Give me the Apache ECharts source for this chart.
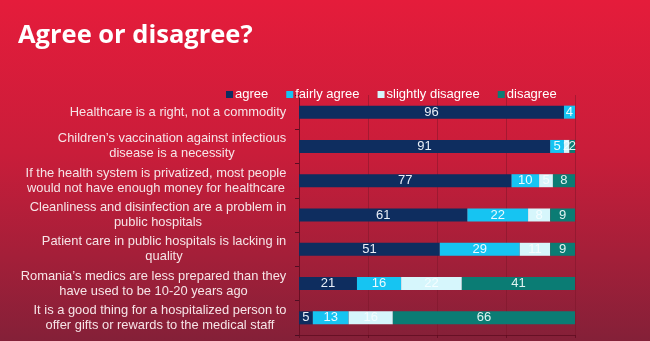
<!DOCTYPE html>
<html><head><meta charset="utf-8">
<script src="https://cdn.jsdelivr.net/npm/echarts@6/dist/echarts.min.js"></script>
<style>html,body{margin:0;padding:0;}#c{width:650px;height:341px;background:linear-gradient(180deg,#e51c3b 0%,#c91d3a 45%,#a41f39 75%,#842038 100%);}</style>
</head><body><div id="c"></div>
<script>
const categories = [
  "Healthcare is a right, not a commodity",
  "Children’s vaccination against infectious\ndisease is a necessity",
  "If the health system is privatized, most people\nwould not have enough money for healthcare",
  "Cleanliness and disinfection are a problem in\npublic hospitals",
  "Patient care in public hospitals is lacking in\nquality",
  "Romania’s medics are less prepared than they\nhave used to be 10-20 years ago",
  "It is a good thing for a hospitalized person to\noffer gifts or rewards to the medical staff"
];
const agree = [96, 91, 77, 61, 51, 21, 5];
const fairlyAgree = [4, 5, 10, 22, 29, 16, 13];
const slightlyDisagree = [0, 2, 5, 8, 11, 22, 16];
const disagree = [0, 2, 8, 9, 9, 41, 66];
const seriesNames = ["agree", "fairly agree", "slightly disagree", "disagree"];
const xTicks = [0, 25, 50, 75, 100];

const colors = ["#0e2d5f", "#16c4f2", "#d6f6fc", "#0b7c74"];
const labelColors = ["#e9eef7", "#eafaff", "#f4fdff", "#e0f3f1"];
const datasets = [agree, fairlyAgree, slightlyDisagree, disagree];

const catSize = 12.9;
const ctx = document.createElement('canvas').getContext('2d');
ctx.font = catSize + 'px "Liberation Sans"';
const rich = {};
categories.forEach((c, i) => {
  const w = Math.max(...c.split("\n").map(l => ctx.measureText(l).width));
  rich["c" + i] = {align: "center", width: Math.ceil(w) + 1, color: "#f6e4e7", fontSize: catSize, fontFamily: "Liberation Sans", lineHeight: 15};
});

const chart = echarts.init(document.getElementById('c'));
chart.setOption({
  animation: false,
  color: colors,
  title: {
    text: "Agree or disagree?",
    left: 13, top: 18,
    textStyle: {color: "#ffffff", fontSize: 25.5, fontWeight: "bold", fontFamily: "Open Sans"}
  },
  legend: {
    data: seriesNames,
    left: 221, top: 83,
    itemWidth: 7, itemHeight: 7, itemGap: 18,
    icon: "rect",
    textStyle: {color: "#ffffff", fontSize: 13, fontFamily: "Liberation Sans", padding: [0, 0, 0, -3]}
  },
  grid: {left: 299, right: 75, top: 95, bottom: 6, containLabel: false},
  xAxis: {
    type: "value", min: xTicks[0], max: xTicks[xTicks.length - 1], interval: 25,
    axisLabel: {show: false},
    axisLine: {show: true, lineStyle: {color: "rgba(90,10,30,0.7)"}},
    axisTick: {show: true, length: 3, lineStyle: {color: "rgba(90,10,30,0.7)"}},
    splitLine: {show: true, lineStyle: {color: "rgba(120,20,40,0.45)"}}
  },
  yAxis: {
    type: "category", data: categories, inverse: true,
    axisLine: {show: true, lineStyle: {color: "rgba(90,10,30,0.7)"}},
    axisTick: {show: true, length: 4, lineStyle: {color: "rgba(60,10,30,0.8)"}},
    axisLabel: {
      align: "right", margin: 12,
      formatter: (v, i) => v.split("\n").map(l => "{c" + i + "|" + l + "}").join("\n"),
      rich: rich
    }
  },
  series: datasets.map((d, i) => ({
    name: seriesNames[i], type: "bar", stack: "all", data: d,
    barWidth: 13,
    label: {
      show: true, position: "inside", color: labelColors[i], fontSize: 13,
      fontFamily: "Liberation Sans",
      formatter: p => p.value > 0 ? p.value : ""
    }
  }))
});
</script></body></html>
